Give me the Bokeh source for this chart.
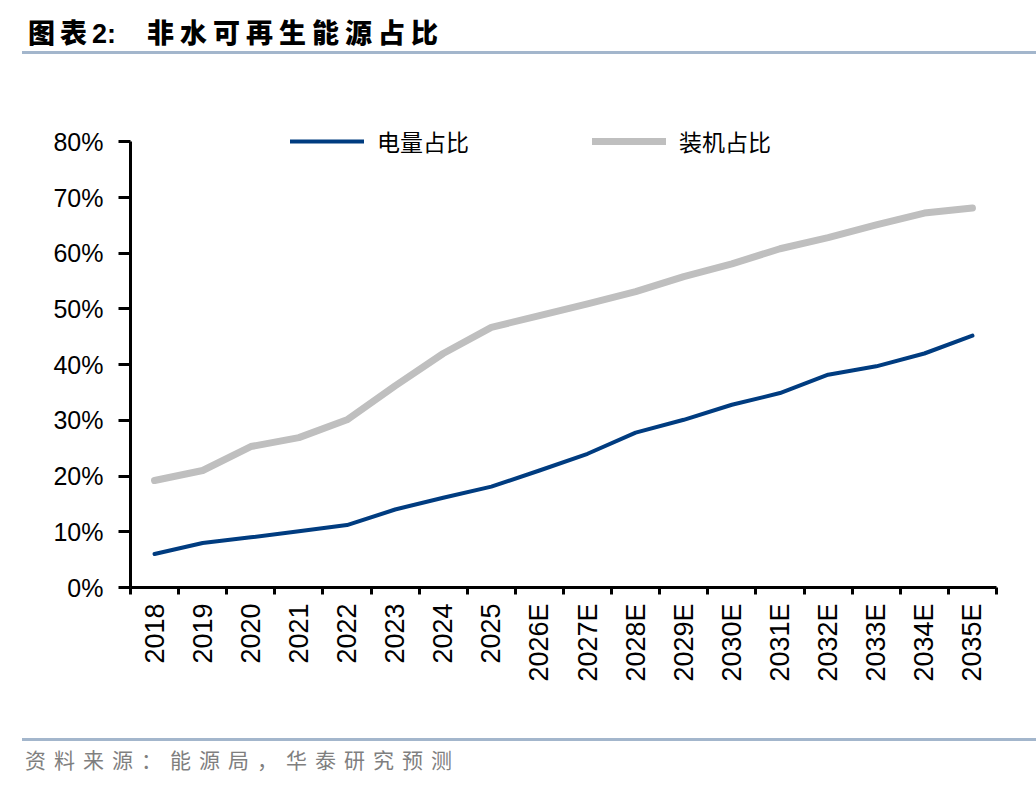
from math import pi
from bokeh.plotting import figure
from bokeh.models import FixedTicker, PrintfTickFormatter, Legend, LegendItem, Range1d, Div
from bokeh.layouts import column
from bokeh.embed import file_html
from bokeh.resources import INLINE

years = ["2018", "2019", "2020", "2021", "2022", "2023", "2024", "2025",
         "2026E", "2027E", "2028E", "2029E", "2030E", "2031E", "2032E",
         "2033E", "2034E", "2035E"]
power_share = [6.0, 8.0, 9.0, 10.1, 11.2, 14.0, 16.1, 18.1, 21.0, 24.0,
               27.8, 30.1, 32.8, 34.9, 38.2, 39.7, 42.0, 45.2]
capacity_share = [19.2, 21.0, 25.3, 26.9, 30.1, 36.2, 42.0, 46.7, 48.8, 50.9,
                  53.1, 55.8, 58.1, 60.8, 62.8, 65.1, 67.2, 68.1]
y_ticks = [0, 10, 20, 30, 40, 50, 60, 70, 80]
series_names = ["电量占比", "装机占比"]
title_prefix = "图表2:"
title_text = "非水可再生能源占比"
source_text = "资料来源：能源局，华泰研究预测"

BLUE = "#003C80"
GRAY = "#BFBFBF"
RULE = "#A3B6CC"
W = 1036

n = len(years)
centers = [i + 0.5 for i in range(n)]
bounds = list(range(n + 1))

title_div = Div(
    width=W, height=58, margin=0,
    text=(
        f'<div style="position:relative;width:{W}px;height:58px;">'
        '<div style="position:absolute;left:28px;top:18px;line-height:27px;'
        'font-family:\'Noto Sans CJK SC\';font-weight:900;font-size:27px;color:#000;white-space:nowrap;">'
        f'<span style="letter-spacing:5px;">{title_prefix[:2]}</span>'
        f'<span style="font-family:\'Liberation Sans\';font-weight:bold;">{title_prefix[2:]}</span>'
        f'<span style="margin-left:31px;letter-spacing:6px;">{title_text}</span></div>'
        f'<div style="position:absolute;left:22px;top:51px;width:{W - 22}px;height:3px;background:{RULE};"></div>'
        '</div>'
    ),
)

p = figure(width=W, height=672, output_backend="svg", toolbar_location=None,
           x_range=Range1d(0, n), y_range=Range1d(0, 84),
           min_border_left=130, min_border_right=40, min_border_top=61,
           min_border_bottom=143, margin=0)
p.outline_line_color = None
p.xgrid.visible = False
p.ygrid.visible = False
p.background_fill_color = "white"
p.border_fill_color = "white"

r1 = p.line(centers, power_share, line_color=BLUE, line_width=4, line_join="round", line_cap="round")
r2 = p.line(centers, capacity_share, line_color=GRAY, line_width=7, line_join="round", line_cap="round")

# y axis
yax = p.yaxis[0]
yax.ticker = FixedTicker(ticks=y_ticks)
yax.bounds = (0, 80)
yax.formatter = PrintfTickFormatter(format="%d%%")
yax.axis_line_width = 3
yax.axis_line_color = "black"
yax.major_tick_line_width = 3
yax.major_tick_out = 12
yax.major_tick_in = 0
yax.minor_tick_line_color = None
yax.major_label_text_font = "Liberation Sans"
yax.major_label_text_font_size = "25px"
yax.major_label_text_color = "black"
yax.major_label_standoff = 15

# x axis
xax = p.xaxis[0]
xax.ticker = FixedTicker(ticks=centers, minor_ticks=bounds)
xax.major_label_overrides = {c: y for c, y in zip(centers, years)}
xax.axis_line_width = 3
xax.axis_line_color = "black"
xax.major_tick_line_color = None
xax.major_tick_out = 0
xax.major_tick_in = 0
xax.minor_tick_line_color = "black"
xax.minor_tick_line_width = 3
xax.minor_tick_out = 7
xax.minor_tick_in = 0
xax.major_label_orientation = pi / 2
xax.major_label_text_font = "Liberation Sans"
xax.major_label_text_font_size = "27px"
xax.major_label_text_color = "black"
xax.major_label_standoff = 9

legend = Legend(
    items=[LegendItem(label=series_names[0], renderers=[r1]),
           LegendItem(label=series_names[1], renderers=[r2])],
    orientation="horizontal", location=(160, 429),
    glyph_width=74, glyph_height=24, label_height=24, label_standoff=13,
    spacing=123, padding=0, margin=0,
    label_text_font="Noto Sans CJK SC", label_text_font_size="23px",
    label_text_color="black",
    background_fill_alpha=0, border_line_color=None,
)
p.add_layout(legend, "center")

footer_div = Div(
    width=W, height=56, margin=0,
    text=(
        f'<div style="position:relative;width:{W}px;height:56px;">'
        f'<div style="position:absolute;left:22px;top:8px;width:{W - 22}px;height:3px;background:{RULE};"></div>'
        '<div style="position:absolute;left:25px;top:17px;line-height:24px;'
        'font-family:\'Noto Sans CJK SC\';font-size:21px;color:#7F7F7F;letter-spacing:8px;white-space:nowrap;">'
        f'{source_text}</div></div>'
    ),
)

layout = column(title_div, p, footer_div, spacing=0)
open("out.html", "w").write(file_html(layout, INLINE))
